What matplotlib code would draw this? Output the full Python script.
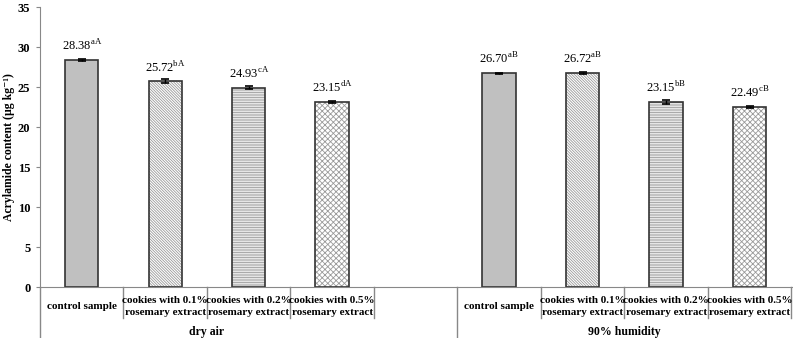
import numpy as np
import matplotlib.pyplot as plt
from matplotlib.transforms import blended_transform_factory

plt.rcParams['font.family'] = ['Liberation Serif', 'DejaVu Serif']
plt.rcParams['mathtext.fontset'] = 'custom'
plt.rcParams['mathtext.rm'] = 'Liberation Serif'
plt.rcParams['hatch.linewidth'] = 0.6

# data
groups = ['dry air', '90% humidity']
samples = ['control sample', 'cookies with 0.1%\nrosemary extract',
           'cookies with 0.2%\nrosemary extract', 'cookies with 0.5%\nrosemary extract']
dry_vals = [28.38, 25.72, 24.93, 23.15]
dry_err = [0.18, 0.22, 0.22, 0.12]
dry_sig = ['aA', 'bA', 'cA', 'dA']
hum_vals = [26.70, 26.72, 23.15, 22.49]
hum_err = [0.08, 0.1, 0.22, 0.08]
hum_sig = ['aB', 'aB', 'bB', 'cB']

fills = ['#c0c0c0', 'white', 'white', 'white']
hatches = [None, '\\' * 12, '-' * 10, 'x' * 6]

fig = plt.figure(figsize=(7.93, 3.38), dpi=100)
ax = fig.add_axes([40/793, 51/338, 1 - 40/793, 280/338])

pos_dry = np.arange(4)
pos_hum = np.arange(5, 9)
for pos, vals, errs, sigs in [(pos_dry, dry_vals, dry_err, dry_sig),
                              (pos_hum, hum_vals, hum_err, hum_sig)]:
    for i in range(4):
        # hatch layer in gray, outline on top in dark
        ax.bar(pos[i], vals[i], width=0.4, color=fills[i], edgecolor='#9a9a9a',
               linewidth=0, hatch=hatches[i], zorder=2)
        ax.bar(pos[i], vals[i], width=0.4, color='none', edgecolor='#333333',
               linewidth=1.2, zorder=2.5)
        ax.errorbar(pos[i], vals[i], yerr=errs[i], color='black', capsize=3,
                    elinewidth=1, capthick=1.2, zorder=3)
        ax.text(pos[i], vals[i] + 0.8, '%.2f$^{\\mathrm{%s}}$' % (vals[i], sigs[i]),
                ha='center', va='bottom', fontsize=9)

ax.set_xlim(-0.5, 8.52)
ax.set_ylim(0, 35)
ax.set_yticks(range(0, 36, 5))
ax.set_xticks([])
for lab in ax.get_yticklabels():
    lab.set_fontweight('bold')
ax.tick_params(axis='y', labelsize=9, direction='out', length=3, pad=4,
               color='#888888')
ax.set_ylabel('Acrylamide content (µg kg⁻¹)', fontsize=8.5, fontweight='bold')
ax.yaxis.set_label_coords(-25/753, 0.5)
for s in ['top', 'right']:
    ax.spines[s].set_visible(False)
ax.spines['left'].set_color('#888888')
ax.spines['bottom'].set_color('#888888')

# category labels and separators
tr = blended_transform_factory(ax.transData, ax.transAxes)
y1 = -31/280
y2 = -51/280
for pos in [pos_dry, pos_hum]:
    for i, p in enumerate(pos):
        ax.text(p, -19.5/280, samples[i], transform=tr, ha='center', va='center',
                fontsize=8, fontweight='bold', linespacing=1.35)
for b in [0.5, 1.5, 2.5, 3.5, 5.5, 6.5, 7.5, 8.5]:
    ax.plot([b, b], [0, y1], transform=tr, color='#888888', lw=1, clip_on=False)
for b in [-0.5, 4.5]:
    ax.plot([b, b], [0, y2], transform=tr, color='#888888', lw=1, clip_on=False)
ax.text(1.5, -45/280, groups[0], transform=tr, ha='center', va='center',
        fontsize=8.5, fontweight='bold')
ax.text(6.5, -45/280, groups[1], transform=tr, ha='center', va='center',
        fontsize=8.5, fontweight='bold')

fig.savefig('out.png', dpi=100)
